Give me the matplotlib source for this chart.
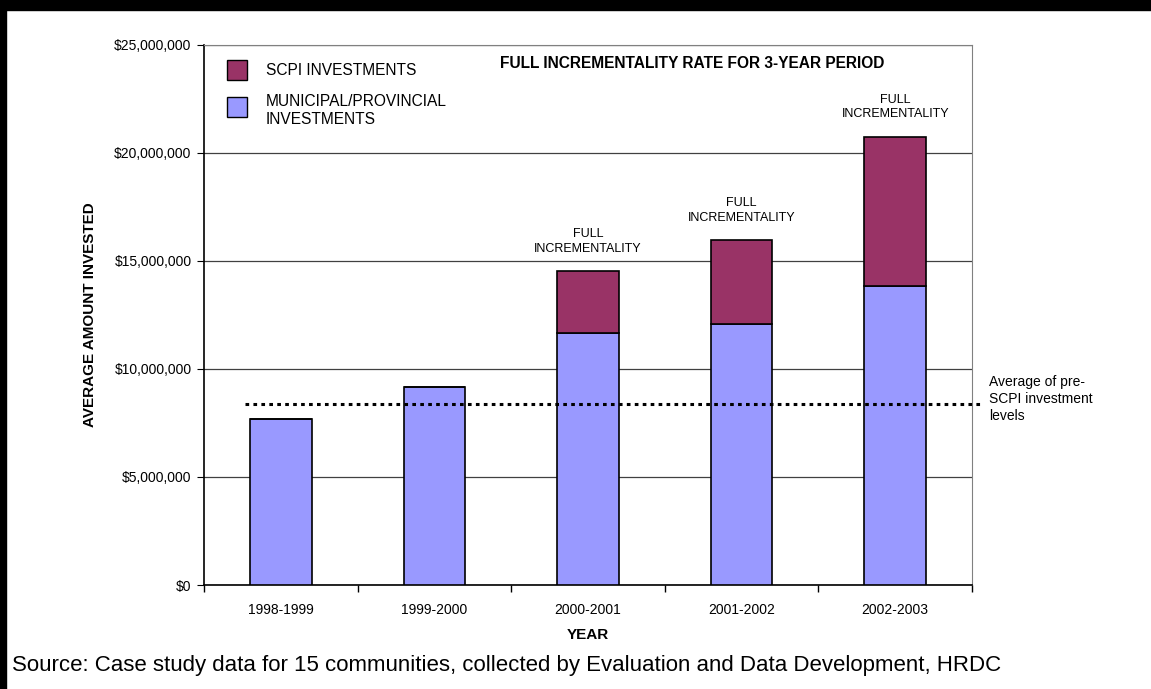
import numpy as np
import matplotlib.pyplot as plt
from matplotlib.patches import Rectangle
from matplotlib.ticker import FuncFormatter

plt.rcParams['font.family'] = ['Liberation Sans', 'DejaVu Sans']

# average investment per year (dollars)
years = ['1998-1999', '1999-2000', '2000-2001', '2001-2002', '2002-2003']
municipal = [7.70e6, 9.17e6, 11.68e6, 12.10e6, 13.86e6]
scpi = [0, 0, 2.84e6, 3.86e6, 6.88e6]
pre_scpi_avg = 8.4e6
bar_notes = ['', '', 'FULL\nINCREMENTALITY', 'FULL\nINCREMENTALITY', 'FULL\nINCREMENTALITY']
series_names = ['SCPI INVESTMENTS', 'MUNICIPAL/PROVINCIAL\nINVESTMENTS']
series_colors = ['#993366', '#9999FF']

fig = plt.figure(figsize=(11.51, 6.89), dpi=100)
ax = fig.add_axes([204/1151, 104/689, 768/1151, 540/689])

x = np.arange(len(years))
w = 0.4
ax.bar(x, municipal, w, color=series_colors[1], edgecolor='black', linewidth=1.2, zorder=3)
ax.bar(x, scpi, w, bottom=municipal, color=series_colors[0], edgecolor='black', linewidth=1.2, zorder=3)

for i, note in enumerate(bar_notes):
    if note:
        top = municipal[i] + scpi[i]
        ax.annotate(note, (x[i], top), xytext=(0, 12), textcoords='offset points',
                    ha='center', va='bottom', fontsize=9, linespacing=1.3)

# average level before SCPI
ax.plot([-0.23, 4.56], [pre_scpi_avg, pre_scpi_avg], color='black', lw=2.2,
        linestyle=(0, (1.2, 1.4)), dash_capstyle='butt', clip_on=False, zorder=4)
ax.text(4.61, pre_scpi_avg + 0.22e6, 'Average of pre-\nSCPI investment\nlevels', fontsize=10,
        ha='left', va='center', linespacing=1.3)

ax.set_xlim(-0.5, 4.5)
ax.set_ylim(0, 25e6)
ax.set_yticks(np.arange(0, 25e6 + 1, 5e6))
ax.yaxis.set_major_formatter(FuncFormatter(lambda v, p: '${:,.0f}'.format(v)))
ax.set_xticks(x)
ax.set_xticklabels(years)
ax.set_xticks(np.arange(-0.5, 4.6, 1), minor=True)
ax.tick_params(axis='x', which='major', length=0, pad=13, labelsize=10)
ax.tick_params(axis='x', which='minor', length=5, direction='out', width=1)
ax.tick_params(axis='y', length=5, direction='out', labelsize=10, pad=4)
ax.grid(axis='y', color='#404040', linewidth=0.9, zorder=0)

for side in ['top', 'right']:
    ax.spines[side].set_color('#808080')
ax.spines['left'].set_linewidth(1.2)
ax.spines['bottom'].set_linewidth(1.2)

ax.set_ylabel('AVERAGE AMOUNT INVESTED', fontsize=11, fontweight='bold', labelpad=12)
ax.set_xlabel('YEAR', fontsize=11, fontweight='bold', labelpad=8)

ax.text(0.385, 0.965, 'FULL INCREMENTALITY RATE FOR 3-YEAR PERIOD', transform=ax.transAxes,
        fontsize=11.2, fontweight='bold', ha='left', va='center')

# legend boxes and labels
key_bottoms = [0.935, 0.867]
label_ys = [0.952, 0.879]
for col, yb, ty, name in zip(series_colors, key_bottoms, label_ys, series_names):
    ax.add_patch(Rectangle((0.030, yb), 0.026, 0.037, transform=ax.transAxes,
                           facecolor=col, edgecolor='black', linewidth=1, zorder=5))
    ax.text(0.0807, ty, name, transform=ax.transAxes, fontsize=11.2,
            ha='left', va='center', linespacing=1.3)

# frame pieces of the page
fig.patches.append(Rectangle((0, 1 - 10/689), 1, 10/689, transform=fig.transFigure,
                             color='black', zorder=10))
fig.patches.append(Rectangle((0, 0), 6/1151, 1, transform=fig.transFigure,
                             color='black', zorder=10))

fig.text(12/1151, 1 - 665/689, 'Source: Case study data for 15 communities, collected by '
         'Evaluation and Data Development, HRDC', fontsize=16, ha='left', va='center')

fig.savefig('out.png', dpi=100)
